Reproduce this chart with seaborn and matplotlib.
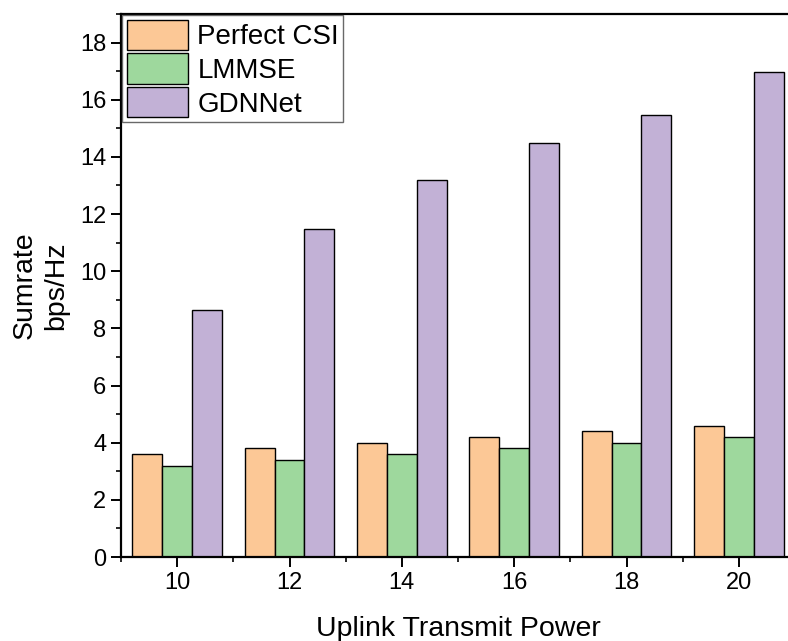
import numpy as np
import pandas as pd
import matplotlib
matplotlib.use('Agg')
import matplotlib.pyplot as plt
from matplotlib.ticker import MultipleLocator, FixedLocator
import seaborn as sns

powers = ['10', '12', '14', '16', '18', '20']
series = ['Perfect CSI', 'LMMSE', 'GDNNet']
perfect_csi = [3.6, 3.8, 4.0, 4.2, 4.4, 4.6]
lmmse = [3.2, 3.4, 3.6, 3.8, 4.0, 4.2]
gdnnet = [8.65, 11.47, 13.2, 14.47, 15.45, 16.96]
colors = ['#FCC896', '#9ED89D', '#C2B1D6']

df = pd.DataFrame({
    'power': powers * 3,
    'method': np.repeat(series, len(powers)),
    'rate': perfect_csi + lmmse + gdnnet,
})

sns.set_style('ticks')
plt.rcParams['font.family'] = ['Liberation Sans', 'DejaVu Sans']
plt.rcParams['text.color'] = 'black'
plt.rcParams['axes.labelcolor'] = 'black'

fig = plt.figure(figsize=(7.88, 6.41), dpi=100)
ax = fig.add_axes([121 / 788, 84 / 641, 674 / 788, 543 / 641])

sns.barplot(data=df, x='power', y='rate', hue='method', order=powers, hue_order=series,
            palette=colors, edgecolor='black', linewidth=1, saturation=1, width=0.8, ax=ax)

ax.set_xlim(-0.5, 5.5)
ax.set_ylim(0, 19)
ax.yaxis.set_major_locator(MultipleLocator(2))
ax.yaxis.set_minor_locator(MultipleLocator(1))
ax.xaxis.set_minor_locator(FixedLocator(np.arange(-0.5, 6, 1)))

for sp in ax.spines.values():
    sp.set_linewidth(1.6)
    sp.set_color('black')
ax.tick_params(axis='both', which='major', length=7, width=1.4, labelsize=17, colors='black', direction='out')
ax.tick_params(axis='both', which='minor', length=3.5, width=1.4, direction='out')

ax.set_xlabel('Uplink Transmit Power', fontsize=20.5, labelpad=16, color='black')
ax.set_ylabel('Sumrate\nbps/Hz', fontsize=20.5, labelpad=8, linespacing=1.25, color='black')

leg = ax.legend(loc='upper left', fontsize=20, frameon=True, fancybox=False,
                handlelength=2.2, handleheight=1.3, handletextpad=0.35,
                labelspacing=0.12, borderpad=0.15, borderaxespad=0.05)
leg.get_frame().set_edgecolor('#444444')
leg.get_frame().set_linewidth(1.0)
for t in leg.get_texts():
    t.set_color('black')

fig.savefig('out.png', dpi=100)
